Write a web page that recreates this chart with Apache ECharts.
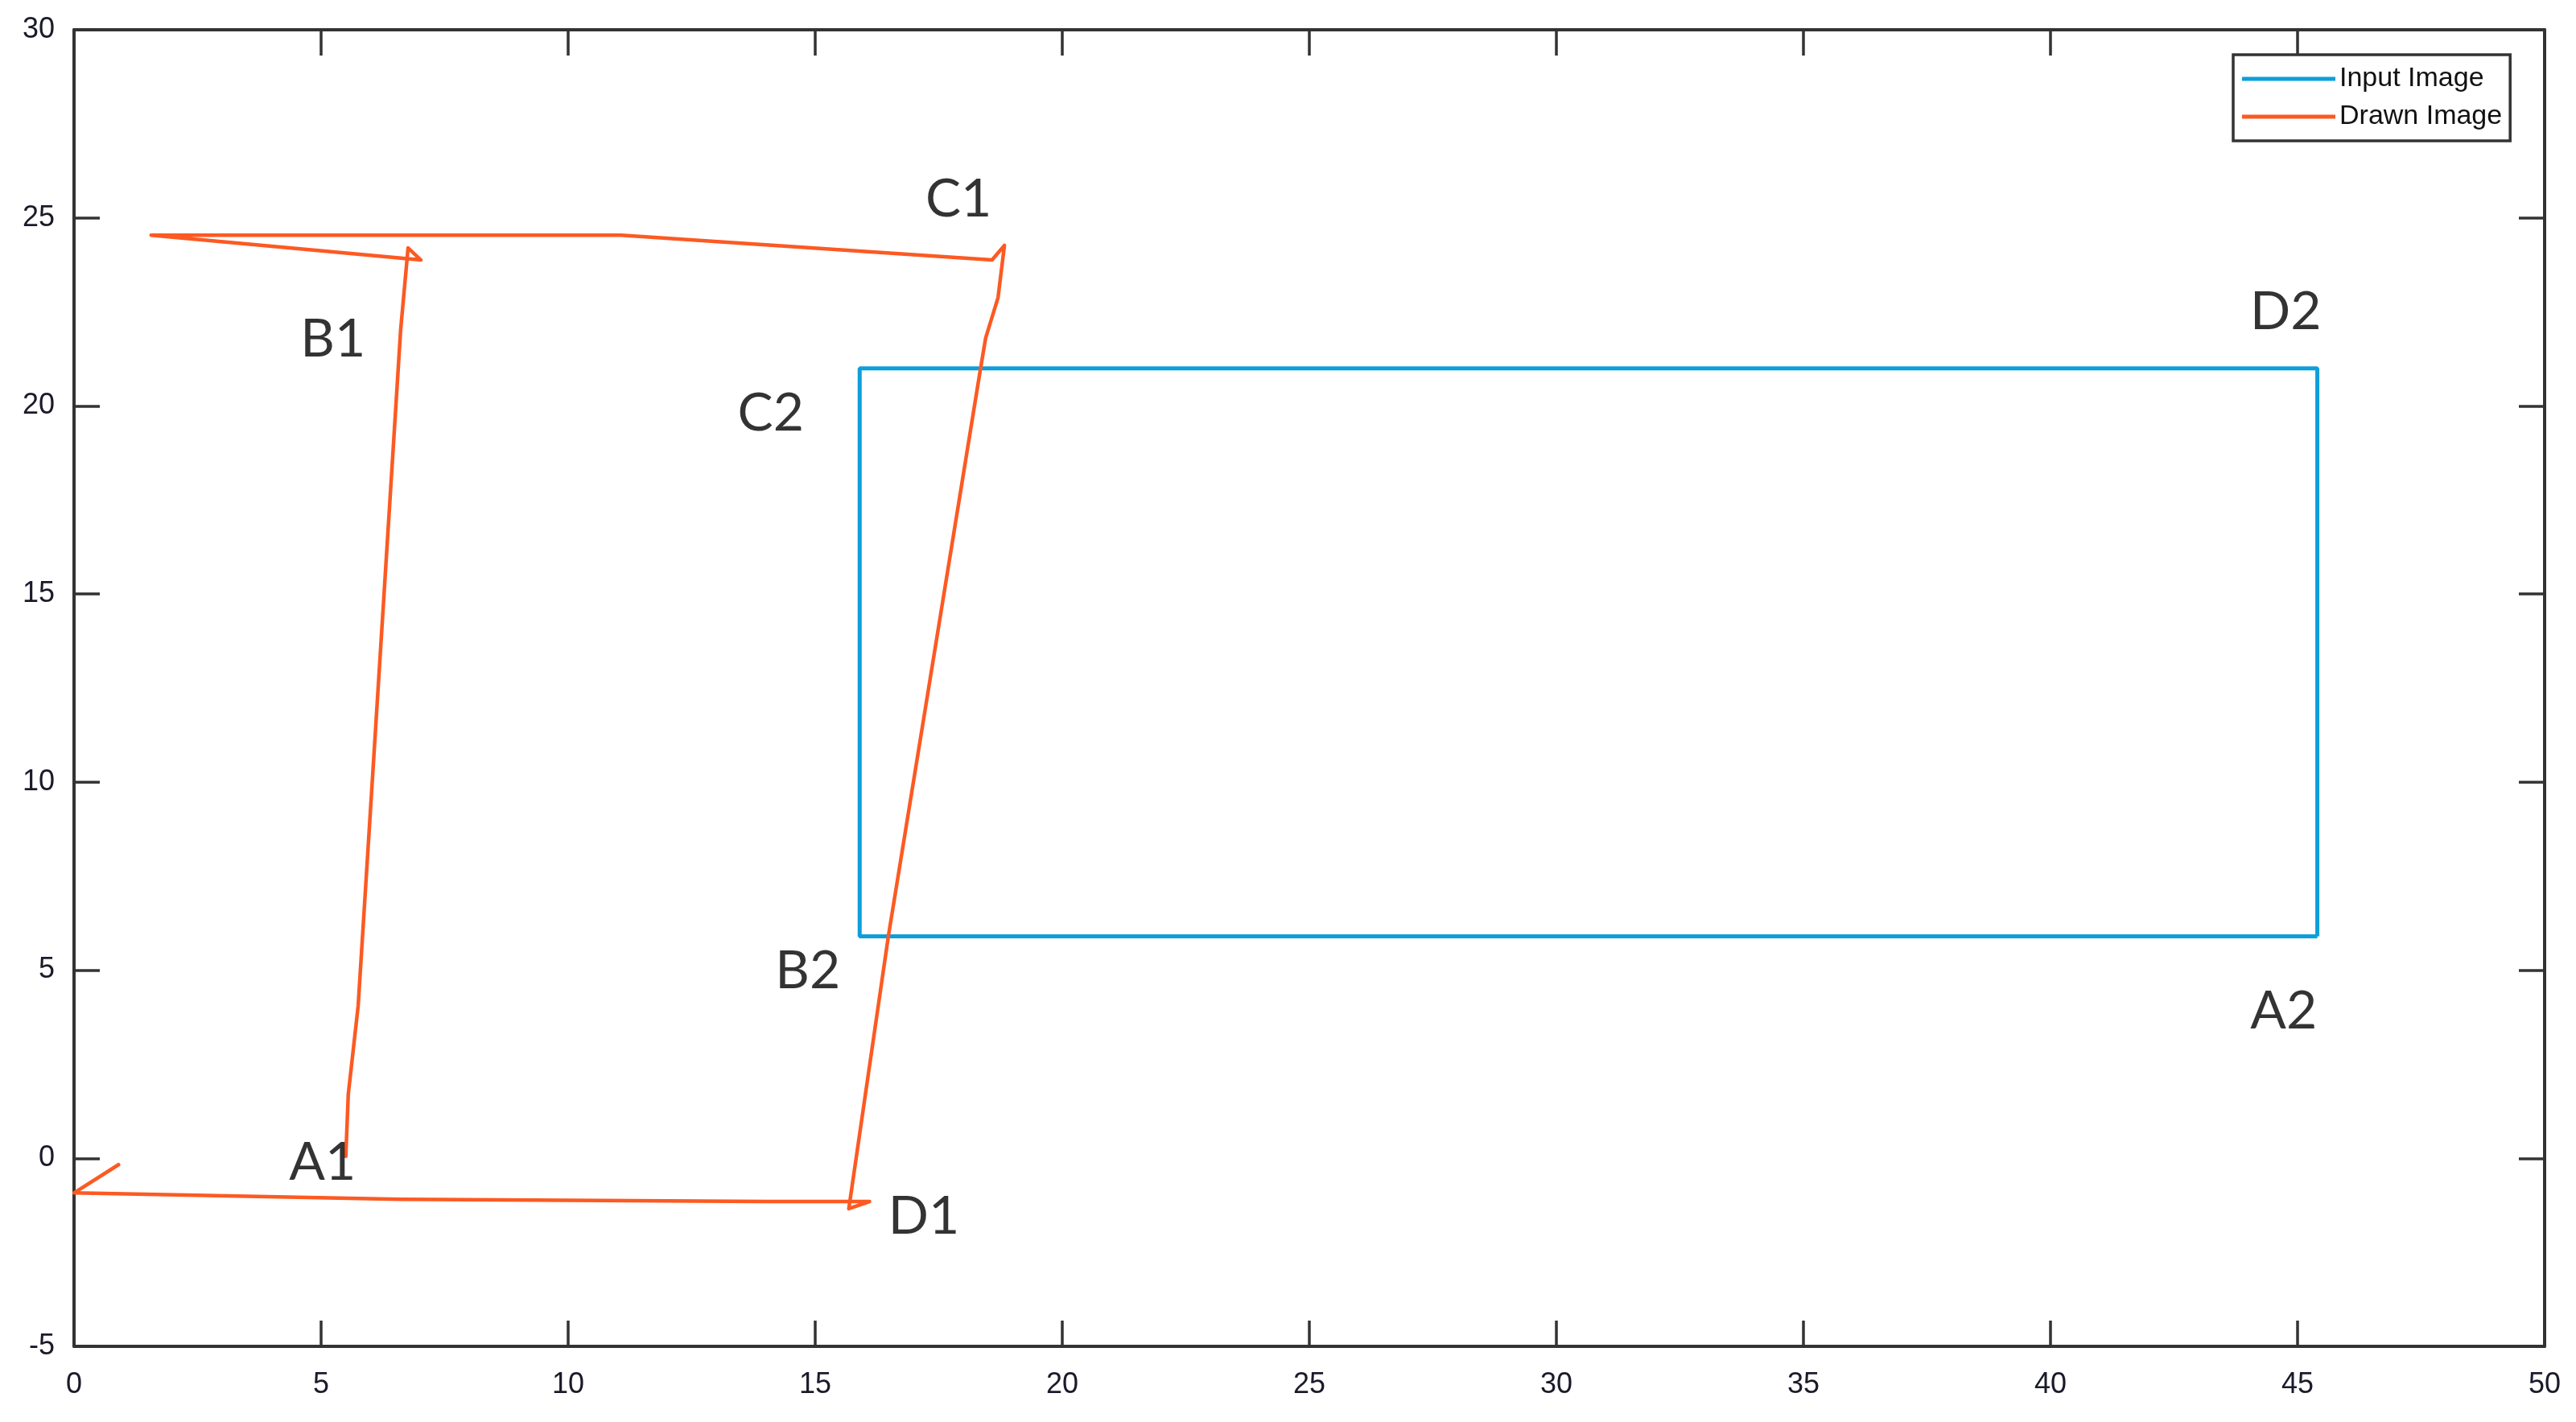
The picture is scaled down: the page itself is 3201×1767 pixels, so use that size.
<!DOCTYPE html>
<html>
<head>
<meta charset="utf-8">
<script src="https://cdn.jsdelivr.net/npm/echarts@6/dist/echarts.min.js"></script>
<style>
html,body{margin:0;padding:0;background:#fff;}
#chart{width:3201px;height:1767px;}
</style>
</head>
<body>
<div id="chart"></div>
<script>
// Input image rectangle (A2 -> B2 -> C2 -> D2 -> A2)
const inputImage = [
  [45.4, 5.9], [15.9, 5.9], [15.9, 21.0], [45.4, 21.0], [45.4, 5.9]
];
// Hand-drawn path
const drawnImage = [
  [0.9, -0.17], [0.0, -0.92], [6.6, -1.09], [14.0, -1.15], [16.1, -1.15],
  [15.68, -1.34], [16.48, 5.9], [18.34, 20.95], [18.45, 21.81], [18.7, 22.88],
  [18.83, 24.27], [18.58, 23.88], [11.07, 24.54], [1.56, 24.54], [7.02, 23.88],
  [6.76, 24.2], [6.61, 22.02], [5.75, 4.05], [5.55, 1.7], [5.5, 0.05]
];
// Corner annotations
const cornerNames = ['C1', 'B1', 'C2', 'D2', 'B2', 'A2', 'A1', 'D1'];
const cornerPos = [
  [17.9, 25.5], [5.24, 21.78], [14.1, 19.8], [44.76, 22.5],
  [14.85, 4.97], [44.72, 3.9], [5.03, -0.12], [17.2, -1.54]
];
const xTicks = {min: 0, max: 50, interval: 5};
const yTicks = {min: -5, max: 30, interval: 5};
const seriesNames = ['Input Image', 'Drawn Image'];

const axisLineStyle = {color: '#333', width: 4};
const tickStyle = {show: true, inside: true, length: 32, lineStyle: {color: '#333', width: 3.5}};
const labelStyle = {fontFamily: 'Liberation Sans', fontSize: 36, color: '#1a1a2a'};

const chart = echarts.init(document.getElementById('chart'));
chart.setOption({
  animation: false,
  backgroundColor: '#fff',
  grid: {left: 92, top: 37, right: 39, bottom: 94, containLabel: false},
  legend: {
    data: seriesNames,
    orient: 'vertical',
    left: 2775, top: 68,
    icon: 'rect',
    itemWidth: 116, itemHeight: 5,
    itemGap: 7,
    padding: [10, 10, 10, 11],
    borderColor: '#333', borderWidth: 3.5,
    backgroundColor: '#fff',
    textStyle: {fontFamily: 'Liberation Sans', fontSize: 34, color: '#111', lineHeight: 40}
  },
  xAxis: [
    {type: 'value', min: xTicks.min, max: xTicks.max, interval: xTicks.interval, position: 'bottom',
     axisLine: {show: true, onZero: false, lineStyle: axisLineStyle}, axisTick: tickStyle,
     axisLabel: Object.assign({margin: 30}, labelStyle), splitLine: {show: false}},
    {type: 'value', min: xTicks.min, max: xTicks.max, interval: xTicks.interval, position: 'top',
     axisLine: {show: true, onZero: false, lineStyle: axisLineStyle}, axisTick: tickStyle,
     axisLabel: {show: false}, splitLine: {show: false}}
  ],
  yAxis: [
    {type: 'value', min: yTicks.min, max: yTicks.max, interval: yTicks.interval, position: 'left',
     axisLine: {show: true, onZero: false, lineStyle: axisLineStyle}, axisTick: tickStyle,
     axisLabel: Object.assign({margin: 24}, labelStyle), splitLine: {show: false}},
    {type: 'value', min: yTicks.min, max: yTicks.max, interval: yTicks.interval, position: 'right',
     axisLine: {show: true, onZero: false, lineStyle: axisLineStyle}, axisTick: tickStyle,
     axisLabel: {show: false}, splitLine: {show: false}}
  ],
  series: [
    {name: seriesNames[0], type: 'line', data: inputImage, showSymbol: false, symbol: 'none',
     lineStyle: {color: '#0D9FDA', width: 5}, itemStyle: {color: '#0D9FDA'}, z: 2},
    {name: seriesNames[1], type: 'line', data: drawnImage, showSymbol: false, symbol: 'none',
     lineStyle: {color: '#FC5A23', width: 4.5, join: 'round', cap: 'round'}, itemStyle: {color: '#FC5A23'}, z: 3},
    {name: 'labels', type: 'scatter', silent: true, symbolSize: 1,
     itemStyle: {color: 'rgba(0,0,0,0)'},
     data: cornerPos.map((p, i) => ({name: cornerNames[i], value: p})),
     label: {show: true, position: 'inside', formatter: '{b}',
       fontFamily: 'Lato', fontSize: 66, color: '#000'}, z: 4}
  ]
});
</script>
</body>
</html>
